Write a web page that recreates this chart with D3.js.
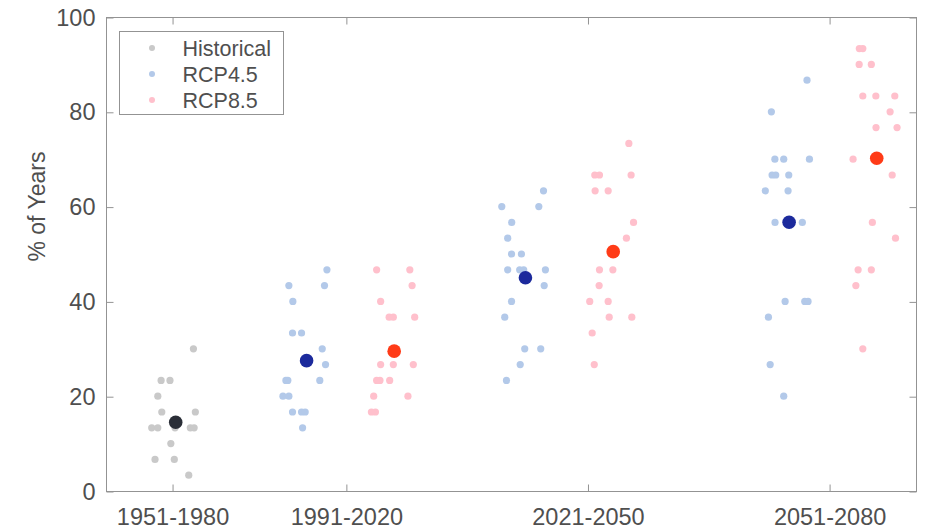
<!DOCTYPE html>
<html>
<head>
<meta charset="utf-8">
<script src="https://cdn.jsdelivr.net/npm/d3@7"></script>
<style>
  html, body { margin: 0; padding: 0; background: #fff; }
  svg { display: block; }
  text { font-family: "Liberation Sans", Arial, Helvetica, sans-serif; fill: #4f4f4f; }
</style>
</head>
<body>
<svg id="chart" width="927" height="529"></svg>
<script>
// Periods shown on the x axis and their positions on the numeric axis
const periods = ["1951-1980", "1991-2020", "2021-2050", "2051-2080"];
const periodPos = [1, 2, 3.39, 4.78];
const yTicks = [0, 20, 40, 60, 80, 100];

// Historical 1951-1980: individual model values (x = jittered position, y = % of years)
const histX = [1.123, 0.937, 0.988, 0.918, 0.941, 1.134, 0.883, 0.918, 1.017, 1.105, 1.127, 0.993, 0.902, 1.013, 1.096];
const histY = [30, 23.33, 23.33, 20, 16.67, 16.67, 13.33, 13.33, 13.33, 13.33, 13.33, 10, 6.67, 6.67, 3.33];

// RCP4.5 individual model values, three future periods
const rcp45X = [
  1.891, 1.672, 1.877, 1.695, 1.693, 1.745, 1.864, 1.883, 1.655, 1.666, 1.850, 1.638, 1.672, 1.693, 1.745, 1.766, 1.751,
  3.137, 2.897, 3.110, 2.954, 2.931, 2.953, 3.010, 2.931, 3.000, 3.023, 3.148, 3.141, 2.953, 2.914, 3.029, 3.121, 3.003, 2.924,
  4.653, 4.448, 4.468, 4.519, 4.667, 4.452, 4.473, 4.548, 4.413, 4.544, 4.469, 4.626, 4.527, 4.640, 4.659, 4.431, 4.441, 4.519
];
const rcp45Y = [
  46.67, 43.33, 43.33, 40, 33.33, 33.33, 30, 26.67, 23.33, 23.33, 23.33, 20, 20, 16.67, 16.67, 16.67, 13.33,
  63.33, 60, 60, 56.67, 53.33, 50, 50, 46.67, 46.67, 46.67, 46.67, 43.33, 40, 36.67, 30, 30, 26.67, 23.33,
  86.67, 80, 70, 70, 70, 66.67, 66.67, 66.67, 63.33, 63.33, 56.67, 56.67, 40, 40, 40, 36.67, 26.67, 20
];

// RCP8.5 individual model values, three future periods
const rcp85X = [
  2.177, 2.368, 2.381, 2.200, 2.249, 2.273, 2.396, 2.200, 2.273, 2.388, 2.177, 2.196, 2.252, 2.160, 2.357, 2.147, 2.170,
  3.628, 3.432, 3.459, 3.641, 3.434, 3.509, 3.655, 3.614, 3.459, 3.536, 3.457, 3.403, 3.509, 3.515, 3.645, 3.417, 3.429,
  4.954, 4.974, 4.953, 5.023, 4.974, 5.049, 5.158, 5.131, 5.050, 5.171, 4.918, 5.143, 5.029, 5.162, 4.947, 5.023, 4.934, 4.974
];
const rcp85Y = [
  46.67, 46.67, 43.33, 40, 36.67, 36.67, 36.67, 26.67, 26.67, 26.67, 23.33, 23.33, 23.33, 20, 20, 16.67, 16.67,
  73.33, 66.67, 66.67, 66.67, 63.33, 63.33, 56.67, 53.33, 46.67, 46.67, 43.33, 40, 40, 36.67, 36.67, 33.33, 26.67,
  93.33, 93.33, 90, 90, 83.33, 83.33, 83.33, 80, 76.67, 76.67, 70, 66.67, 56.67, 53.33, 46.67, 46.67, 43.33, 30
];

// Ensemble means
const histMeanX = [1.021];
const histMeanY = [14.5];
const rcp45MeanX = [1.774, 3.033, 4.550];
const rcp45MeanY = [27.5, 45.0, 56.7];
const rcp85MeanX = [2.278, 3.538, 5.054];
const rcp85MeanY = [29.5, 50.5, 70.2];

const series = [
  { name: "Historical", xs: histX, ys: histY, mx: histMeanX, my: histMeanY, light: "#c9c9c9", dark: "#2a2e37" },
  { name: "RCP4.5", xs: rcp45X, ys: rcp45Y, mx: rcp45MeanX, my: rcp45MeanY, light: "#b3c9e9", dark: "#1c2a9c" },
  { name: "RCP8.5", xs: rcp85X, ys: rcp85Y, mx: rcp85MeanX, my: rcp85MeanY, light: "#ffc0cc", dark: "#ff3b17" }
];

const svg = d3.select("#chart");
const plot = { left: 106, right: 916, top: 17, bottom: 491 };

const x = d3.scaleLinear().domain([0.62, 5.28]).range([plot.left, plot.right]);
const y = d3.scaleLinear().domain([0, 100]).range([plot.bottom, plot.top]);

const axisColor = "#939393";
const tickLen = 7;
const tickFont = 23.5;

// Axis box
svg.append("rect")
  .attr("x", plot.left + 0.5).attr("y", plot.top + 0.5)
  .attr("width", plot.right - plot.left).attr("height", plot.bottom - plot.top)
  .attr("fill", "none").attr("stroke", axisColor).attr("stroke-width", 1);

// Bottom axis (ticks point inward)
const xAxis = d3.axisBottom(x).tickValues(periodPos)
  .tickFormat((d, i) => periods[i]).tickSizeInner(-tickLen).tickSizeOuter(0).tickPadding(17);
const gx = svg.append("g").attr("transform", `translate(0.5,${plot.bottom + 0.5})`).call(xAxis);
gx.select(".domain").remove();
gx.selectAll(".tick line").attr("stroke", axisColor);
gx.selectAll(".tick text").attr("font-size", tickFont).style("fill", "#4f4f4f");

// Top mirror ticks
const gxt = svg.append("g").attr("transform", `translate(0.5,${plot.top + 0.5})`)
  .call(d3.axisTop(x).tickValues(periodPos).tickFormat("").tickSizeInner(-tickLen).tickSizeOuter(0));
gxt.select(".domain").remove();
gxt.selectAll(".tick line").attr("stroke", axisColor);

// Left axis
const yAxis = d3.axisLeft(y).tickValues(yTicks).tickSizeInner(-tickLen).tickSizeOuter(0).tickPadding(11);
const gy = svg.append("g").attr("transform", `translate(${plot.left + 0.5},0.5)`).call(yAxis);
gy.select(".domain").remove();
gy.selectAll(".tick line").attr("stroke", axisColor);
gy.selectAll(".tick text").attr("font-size", tickFont).style("fill", "#4f4f4f");

// Right mirror ticks
const gyr = svg.append("g").attr("transform", `translate(${plot.right + 0.5},0.5)`)
  .call(d3.axisRight(y).tickValues(yTicks).tickFormat("").tickSizeInner(-tickLen).tickSizeOuter(0));
gyr.select(".domain").remove();
gyr.selectAll(".tick line").attr("stroke", axisColor);

// Y axis title
svg.append("text")
  .attr("transform", `translate(45,${y(60)}) rotate(-90)`)
  .attr("text-anchor", "middle")
  .attr("font-size", 23)
  .text("% of Years");

// Individual model points
series.forEach(s => {
  svg.append("g").selectAll("circle")
    .data(s.xs.map((v, i) => [v, s.ys[i]]))
    .join("circle")
    .attr("cx", d => x(d[0])).attr("cy", d => y(d[1]))
    .attr("r", 3.6).attr("fill", s.light);
});

// Ensemble mean markers
series.forEach(s => {
  svg.append("g").selectAll("circle")
    .data(s.mx.map((v, i) => [v, s.my[i]]))
    .join("circle")
    .attr("cx", d => x(d[0])).attr("cy", d => y(d[1]))
    .attr("r", 6.8).attr("fill", s.dark);
});

// Legend
const legend = svg.append("g").attr("transform", "translate(119.5,31.5)");
legend.append("rect").attr("width", 164).attr("height", 83)
  .attr("fill", "#fff").attr("stroke", axisColor).attr("stroke-width", 1);
series.forEach((s, i) => {
  const row = legend.append("g").attr("transform", `translate(0,${16.5 + i * 26})`);
  row.append("circle").attr("cx", 32.5).attr("cy", 0).attr("r", 3).attr("fill", s.light);
  row.append("text").attr("x", 63).attr("y", 0).attr("dy", "0.35em")
    .attr("font-size", 21.5).text(s.name);
});
</script>
</body>
</html>
